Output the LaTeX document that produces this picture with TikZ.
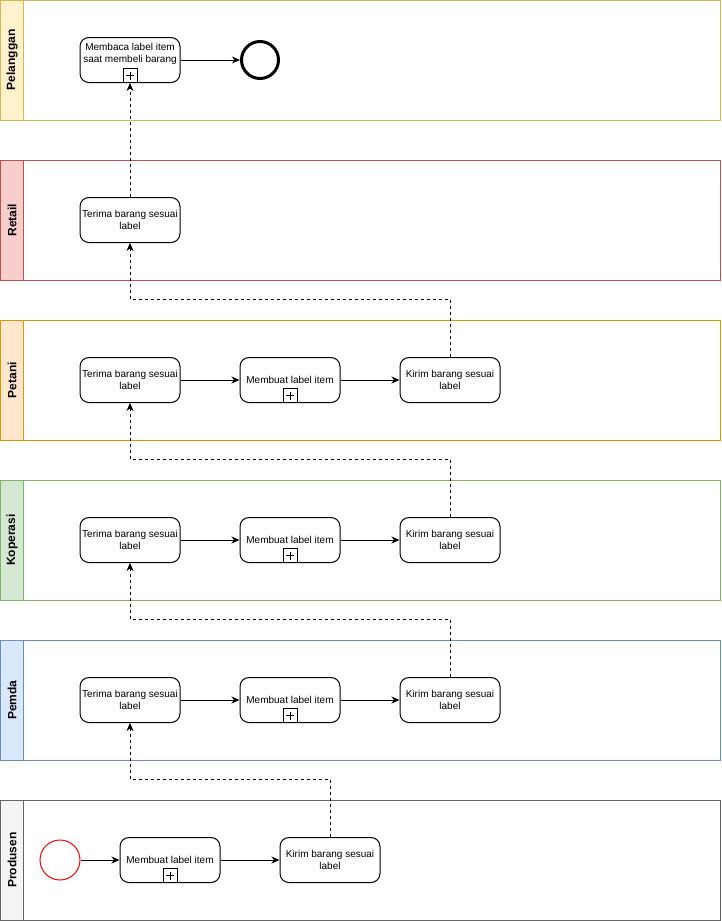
\documentclass[tikz,border=0pt]{standalone}
\usepackage{fontspec}
\setmainfont{Liberation Sans}
\usetikzlibrary{arrows.meta}

\definecolor{pelFill}{HTML}{FFF2CC}\definecolor{pelLine}{HTML}{D6B656}
\definecolor{retFill}{HTML}{F8CECC}\definecolor{retLine}{HTML}{B85450}
\definecolor{petFill}{HTML}{FFE6CC}\definecolor{petLine}{HTML}{D79B00}
\definecolor{kopFill}{HTML}{D5E8D4}\definecolor{kopLine}{HTML}{82B366}
\definecolor{pemFill}{HTML}{DAE8FC}\definecolor{pemLine}{HTML}{6C8EBF}
\definecolor{proFill}{HTML}{F5F5F5}\definecolor{proLine}{HTML}{666666}

\begin{document}
\begin{tikzpicture}[x=1pt,y=-1pt,line width=1pt,
  every node/.style={font=\fontsize{10}{11.5}\selectfont},
  task/.style={draw,rounded corners=9pt,minimum width=100pt,minimum height=45pt,align=center,inner sep=1pt},
  marker/.style={draw,minimum size=14pt,inner sep=0pt,anchor=south,
    path picture={\draw[line width=0.8pt] ([xshift=-4pt]path picture bounding box.center) -- ([xshift=4pt]path picture bounding box.center);
                  \draw[line width=0.8pt] ([yshift=-4pt]path picture bounding box.center) -- ([yshift=4pt]path picture bounding box.center);}},
  header/.style={rotate=90,font=\fontsize{12}{14}\selectfont\bfseries},
  flow/.style={-{Stealth[length=8pt,width=7pt,inset=2.5pt]}},
  msg/.style={flow,dash pattern=on 3pt off 3pt}]

  \useasboundingbox (0,0) rectangle (721,921);

  % Lanes
  \draw[pelLine] (0.5,0.5) rectangle (720.5,120.5);
  \filldraw[fill=pelFill,draw=pelLine] (0.5,0.5) rectangle (23.5,120.5);
  \node[header] (pelHead) at (12,60) {Pelanggan};

  \draw[retLine] (0.5,160.5) rectangle (720.5,280.5);
  \filldraw[fill=retFill,draw=retLine] (0.5,160.5) rectangle (23.5,280.5);
  \node[header] (retHead) at (12,220) {Retail};

  \draw[petLine] (0.5,320.5) rectangle (720.5,440.5);
  \filldraw[fill=petFill,draw=petLine] (0.5,320.5) rectangle (23.5,440.5);
  \node[header] (petHead) at (12,380) {Petani};

  \draw[kopLine] (0.5,480.5) rectangle (720.5,600.5);
  \filldraw[fill=kopFill,draw=kopLine] (0.5,480.5) rectangle (23.5,600.5);
  \node[header] (kopHead) at (12,540) {Koperasi};

  \draw[pemLine] (0.5,640.5) rectangle (720.5,760.5);
  \filldraw[fill=pemFill,draw=pemLine] (0.5,640.5) rectangle (23.5,760.5);
  \node[header] (pemHead) at (12,700) {Pemda};

  \draw[proLine] (0.5,800.5) rectangle (720.5,920.5);
  \filldraw[fill=proFill,draw=proLine] (0.5,800.5) rectangle (23.5,920.5);
  \node[header] (proHead) at (12,860) {Produsen};

  % Pelanggan
  \node[task] (pelBaca) at (130,60) {Membaca label item\\saat membeli barang\\[3pt]};
  \node[marker] (pelMark) at (pelBaca.south) {};
  \node[draw,circle,line width=3pt,minimum size=37pt,inner sep=0pt] (pelEnd) at (260,60) {};
  \draw[flow] (pelBaca) -- (pelEnd);

  % Retail
  \node[task] (retTerima) at (130,220) {Terima barang sesuai\\label};

  % Petani
  \node[task] (petTerima) at (130,380) {Terima barang sesuai\\label};
  \node[task] (petBuat) at (290,380) {Membuat label item};
  \node[marker] (petMark) at (petBuat.south) {};
  \node[task] (petKirim) at (450,380) {Kirim barang sesuai\\label};
  \draw[flow] (petTerima) -- (petBuat);
  \draw[flow] (petBuat) -- (petKirim);

  % Koperasi
  \node[task] (kopTerima) at (130,540) {Terima barang sesuai\\label};
  \node[task] (kopBuat) at (290,540) {Membuat label item};
  \node[marker] (kopMark) at (kopBuat.south) {};
  \node[task] (kopKirim) at (450,540) {Kirim barang sesuai\\label};
  \draw[flow] (kopTerima) -- (kopBuat);
  \draw[flow] (kopBuat) -- (kopKirim);

  % Pemda
  \node[task] (pemTerima) at (130,700) {Terima barang sesuai\\label};
  \node[task] (pemBuat) at (290,700) {Membuat label item};
  \node[marker] (pemMark) at (pemBuat.south) {};
  \node[task] (pemKirim) at (450,700) {Kirim barang sesuai\\label};
  \draw[flow] (pemTerima) -- (pemBuat);
  \draw[flow] (pemBuat) -- (pemKirim);

  % Produsen
  \node[draw=red,circle,minimum size=40pt,inner sep=0pt] (proStart) at (60,860) {};
  \node[task] (proBuat) at (170,860) {Membuat label item};
  \node[marker] (proMark) at (proBuat.south) {};
  \node[task] (proKirim) at (330,860) {Kirim barang sesuai\\label};
  \draw[flow] (proStart) -- (proBuat);
  \draw[flow] (proBuat) -- (proKirim);

  % Message flows between lanes
  \draw[msg] (retTerima.north) -- (pelMark.south);
  \draw[msg] (petKirim.north) -- ++(0,-57.5) -| (retTerima.south);
  \draw[msg] (kopKirim.north) -- ++(0,-57.5) -| (petTerima.south);
  \draw[msg] (pemKirim.north) -- ++(0,-57.5) -| (kopTerima.south);
  \draw[msg] (proKirim.north) -- ++(0,-57.5) -| (pemTerima.south);

\end{tikzpicture}
\end{document}
